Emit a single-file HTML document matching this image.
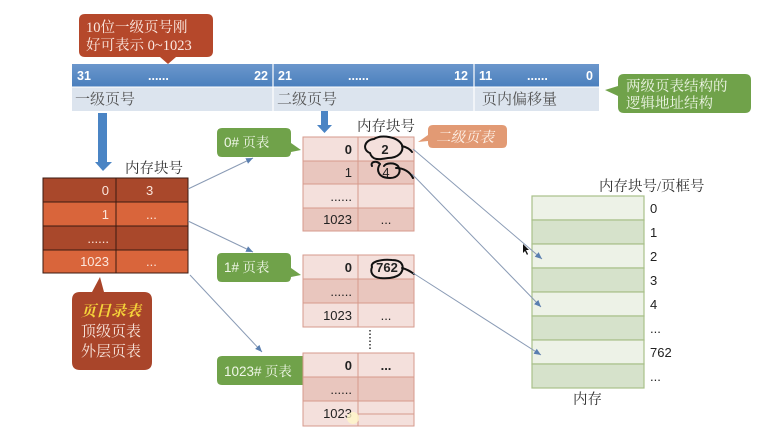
<!DOCTYPE html>
<html><head><meta charset="utf-8">
<style>
html,body{margin:0;padding:0;background:#fff;}
svg{display:block;}
.s{font-family:"Liberation Serif","Noto Serif CJK SC",serif;}
.n{font-family:"Liberation Sans","Noto Sans CJK SC",sans-serif;}
</style></head><body>
<svg width="772" height="434" viewBox="0 0 772 434" xmlns="http://www.w3.org/2000/svg">
<defs>
<linearGradient id="blue" x1="0" y1="0" x2="0" y2="1"><stop offset="0" stop-color="#6b97cc"/><stop offset="1" stop-color="#4a7fbd"/></linearGradient>
<marker id="ah" markerWidth="8" markerHeight="8" refX="7" refY="4" orient="auto" markerUnits="userSpaceOnUse"><path d="M0,1 L7,4 L0,7 z" fill="#5a7fb0"/></marker>
</defs>
<rect width="772" height="434" fill="#fff"/>

<!-- bubble 1 -->
<path d="M85,14 H207 Q213,14 213,20 V51 Q213,57 207,57 H176 L168,64 L160,57 H85 Q79,57 79,51 V20 Q79,14 85,14 z" fill="#b5482b"/>
<text class="s" x="86" y="32" font-size="14.5" fill="#fbe9e2">10位一级页号刚</text>
<text class="s" x="86" y="50" font-size="14.5" fill="#fbe9e2">好可表示 0~1023</text>

<!-- address bar -->
<rect x="72" y="64" width="527" height="23" fill="url(#blue)"/>
<rect x="72" y="87" width="527" height="24" fill="#dce4ee"/>
<line x1="273" y1="64" x2="273" y2="111" stroke="#fff" stroke-width="1.2"/>
<line x1="474" y1="64" x2="474" y2="111" stroke="#fff" stroke-width="1.2"/>
<line x1="72" y1="87" x2="599" y2="87" stroke="#fff" stroke-width="1"/>
<g class="n" font-size="12.5" font-weight="bold" fill="#fff">
<text x="77" y="80">31</text><text x="148" y="80">......</text><text x="268" y="80" text-anchor="end">22</text>
<text x="278" y="80">21</text><text x="348" y="80">......</text><text x="468" y="80" text-anchor="end">12</text>
<text x="479" y="80">11</text><text x="527" y="80">......</text><text x="593" y="80" text-anchor="end">0</text>
</g>
<g class="s" font-size="15" fill="#555">
<text x="75" y="104">一级页号</text><text x="277" y="104">二级页号</text><text x="482" y="104">页内偏移量</text>
</g>

<!-- green bubble logic -->
<path d="M624,74 H745 Q751,74 751,80 V107 Q751,113 745,113 H624 Q618,113 618,107 V96 L605,90 L618,86 V80 Q618,74 624,74 z" fill="#70a24a"/>
<text class="s" x="626" y="91" font-size="14.5" fill="#eef6e6">两级页表结构的</text>
<text class="s" x="626" y="108" font-size="14.5" fill="#eef6e6">逻辑地址结构</text>

<!-- blue arrows -->
<path d="M98,113 H107 V162 H112 L103,171 L95,162 H98 z" fill="#4a84c4"/>
<path d="M321,111 H328 V125 H332 L324.5,133 L317,125 H321 z" fill="#4a84c4"/>

<!-- top level table -->
<text class="s" x="125" y="173" font-size="14.5" fill="#333">内存块号</text>
<rect x="43" y="178" width="145" height="24" fill="#a9482b"/>
<rect x="43" y="202" width="145" height="24" fill="#d9653b"/>
<rect x="43" y="226" width="145" height="24" fill="#a9482b"/>
<rect x="43" y="250" width="145" height="23" fill="#d9653b"/>
<g stroke="#3a1a10" stroke-width="1" fill="none">
<rect x="43" y="178" width="145" height="95"/>
<line x1="43" y1="202" x2="188" y2="202"/><line x1="43" y1="226" x2="188" y2="226"/><line x1="43" y1="250" x2="188" y2="250"/>
<line x1="116" y1="178" x2="116" y2="273"/>
</g>
<g class="n" font-size="13" fill="#fbe6dc">
<text x="109" y="195" text-anchor="end">0</text><text x="146" y="195">3</text>
<text x="109" y="219" text-anchor="end">1</text><text x="146" y="219">...</text>
<text x="109" y="243" text-anchor="end">......</text>
<text x="109" y="266" text-anchor="end">1023</text><text x="146" y="266">...</text>
</g>

<!-- page dir bubble -->
<path d="M80,292 H92 L100,277 L104,292 H144 Q152,292 152,300 V362 Q152,370 144,370 H80 Q72,370 72,362 V300 Q72,292 80,292 z" fill="#a9452a"/>
<text class="s" x="81" y="316" font-size="15" font-style="italic" font-weight="bold" fill="#f5d33a">页目录表</text>
<text class="s" x="81" y="336" font-size="15" fill="#f7e3da">顶级页表</text>
<text class="s" x="81" y="356" font-size="15" fill="#f7e3da">外层页表</text>

<!-- connectors from top table -->
<g stroke="#8a9bb5" stroke-width="1" fill="none" marker-end="url(#ah)">
<line x1="188" y1="189" x2="253" y2="158"/>
<line x1="188" y1="221" x2="253" y2="252"/>
<line x1="190" y1="275" x2="262" y2="352"/>
</g>

<!-- green page-table bubbles -->
<path d="M222,128 H286 Q291,128 291,133 V143 L301,150 L291,152 V152 Q291,157 286,157 H222 Q217,157 217,152 V133 Q217,128 222,128 z" fill="#70a24a"/>
<text x="224" y="147" font-size="13.5" fill="#f0f7e8"><tspan class="n">0#</tspan><tspan class="s"> 页表</tspan></text>
<path d="M222,253 H286 Q291,253 291,258 V268 L301,275 L291,277 Q291,282 286,282 H222 Q217,282 217,277 V258 Q217,253 222,253 z" fill="#70a24a"/>
<text x="224" y="272" font-size="13.5" fill="#f0f7e8"><tspan class="n">1#</tspan><tspan class="s"> 页表</tspan></text>
<path d="M222,356 H305 Q310,356 310,361 V370 L319,376 L310,378 V380 Q310,385 305,385 H222 Q217,385 217,380 V361 Q217,356 222,356 z" fill="#70a24a"/>
<text x="224" y="376" font-size="13.5" fill="#f0f7e8"><tspan class="n">1023#</tspan><tspan class="s"> 页表</tspan></text>

<!-- second-level table 0 -->
<text class="s" x="357" y="131" font-size="14.5" fill="#333">内存块号</text>
<rect x="303" y="137" width="111" height="24" fill="#f4e0dc"/>
<rect x="303" y="161" width="111" height="23" fill="#e9c6be"/>
<rect x="303" y="184" width="111" height="24" fill="#f4e0dc"/>
<rect x="303" y="208" width="111" height="23" fill="#e9c6be"/>
<g stroke="#d69a8c" stroke-width="1" fill="none">
<rect x="303" y="137" width="111" height="94"/>
<line x1="303" y1="161" x2="414" y2="161"/><line x1="303" y1="184" x2="414" y2="184"/><line x1="303" y1="208" x2="414" y2="208"/>
<line x1="358" y1="137" x2="358" y2="231"/>
</g>
<g class="n" font-size="13" fill="#222">
<text x="352" y="154" text-anchor="end" font-weight="bold">0</text><text x="385" y="154" font-weight="bold" text-anchor="middle">2</text>
<text x="352" y="177" text-anchor="end">1</text><text x="386" y="177" text-anchor="middle">4</text>
<text x="352" y="201" text-anchor="end">......</text>
<text x="352" y="224" text-anchor="end">1023</text><text x="386" y="224" text-anchor="middle">...</text>
</g>

<!-- orange bubble -->
<path d="M433,125 H502 Q507,125 507,130 V143 Q507,148 502,148 H433 Q428,148 428,143 V141 L418,142 L428,135 V130 Q428,125 433,125 z" fill="#e29a74"/>
<text class="s" x="436" y="142" font-size="14.5" font-style="italic" fill="#fdf1e8">二级页表</text>

<!-- table 1 -->
<rect x="303" y="255" width="111" height="24" fill="#f4e0dc"/>
<rect x="303" y="279" width="111" height="24" fill="#e9c6be"/>
<rect x="303" y="303" width="111" height="24" fill="#f4e0dc"/>
<g stroke="#d69a8c" stroke-width="1" fill="none">
<rect x="303" y="255" width="111" height="72"/>
<line x1="303" y1="279" x2="414" y2="279"/><line x1="303" y1="303" x2="414" y2="303"/>
<line x1="358" y1="255" x2="358" y2="327"/>
</g>
<g class="n" font-size="13" fill="#222">
<text x="352" y="272" text-anchor="end" font-weight="bold">0</text><text x="387" y="272" text-anchor="middle" font-weight="bold">762</text>
<text x="352" y="296" text-anchor="end">......</text>
<text x="352" y="320" text-anchor="end">1023</text><text x="386" y="320" text-anchor="middle">...</text>
</g>
<line x1="370" y1="330" x2="370" y2="349" stroke="#333" stroke-width="1.5" stroke-dasharray="1.5,2"/>

<!-- table 2 -->
<rect x="303" y="353" width="111" height="24" fill="#f4e0dc"/>
<rect x="303" y="377" width="111" height="24" fill="#e9c6be"/>
<rect x="303" y="401" width="111" height="25" fill="#f4e0dc"/>
<g stroke="#d69a8c" stroke-width="1" fill="none">
<rect x="303" y="353" width="111" height="73"/>
<line x1="303" y1="377" x2="414" y2="377"/><line x1="303" y1="401" x2="414" y2="401"/>
<line x1="358" y1="353" x2="358" y2="426"/>
<line x1="358" y1="414" x2="414" y2="414"/>
</g>
<g class="n" font-size="13" fill="#222">
<text x="352" y="370" text-anchor="end" font-weight="bold">0</text><text x="386" y="370" text-anchor="middle" font-weight="bold">...</text>
<text x="352" y="394" text-anchor="end">......</text>
<text x="352" y="418" text-anchor="end">1023</text>
</g>
<circle cx="353" cy="418" r="6" fill="#fff6c8" opacity="0.8"/>

<!-- handwritten circles -->
<g stroke="#111" stroke-width="2" fill="none" stroke-linecap="round">
<path d="M370,153 C362,150 364,140 374,139 C382,134 398,137 402,145 C404,152 398,158 388,158 C378,160 372,160 370,153 M402,146 C406,147 410,149 412,152"/>
<path d="M372,166 C370,162 376,160 380,164 M380,164 C376,170 378,178 390,178 C398,178 402,172 398,166 C394,162 386,163 384,166 M396,168 C404,168 410,172 413,178"/>
<path d="M372,267 C370,262 380,259 392,260 C402,260 404,266 402,271 C400,277 390,279 380,278 C372,277 370,272 372,267 M402,268 C406,269 410,271 414,274"/>
</g>

<!-- memory -->
<text class="s" x="599" y="191" font-size="14.5" fill="#333">内存块号/页框号</text>
<g stroke="#a9c08a" stroke-width="1.2">
<rect x="532" y="196" width="112" height="24" fill="#edf2e7"/>
<rect x="532" y="220" width="112" height="24" fill="#d6e2cb"/>
<rect x="532" y="244" width="112" height="24" fill="#edf2e7"/>
<rect x="532" y="268" width="112" height="24" fill="#d6e2cb"/>
<rect x="532" y="292" width="112" height="24" fill="#edf2e7"/>
<rect x="532" y="316" width="112" height="24" fill="#d6e2cb"/>
<rect x="532" y="340" width="112" height="24" fill="#edf2e7"/>
<rect x="532" y="364" width="112" height="24" fill="#d6e2cb"/>
</g>
<g class="n" font-size="13" fill="#222">
<text x="650" y="213">0</text><text x="650" y="237">1</text><text x="650" y="261">2</text><text x="650" y="285">3</text>
<text x="650" y="309">4</text><text x="650" y="333">...</text><text x="650" y="357">762</text><text x="650" y="381">...</text>
</g>
<text class="s" x="573" y="404" font-size="14.5" fill="#333">内存</text>

<!-- connectors to memory (drawn over memory) -->
<g stroke="#8a9bb5" stroke-width="1" fill="none" marker-end="url(#ah)">
<line x1="413" y1="149" x2="542" y2="259"/>
<line x1="412" y1="174" x2="541" y2="307"/>
<line x1="413" y1="273" x2="541" y2="355"/>
</g>
<path d="M523,244 L523,253 L525,251 L527,255 L528,254 L526,250 L529,250 z" fill="#111"/>
</svg>
</body></html>
